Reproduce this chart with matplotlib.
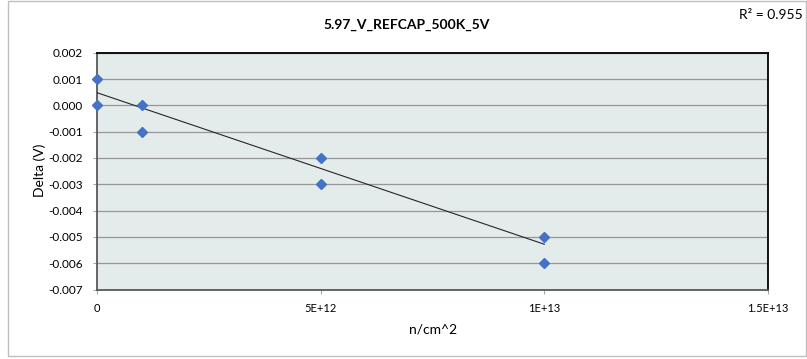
import matplotlib
matplotlib.use('Agg')
import matplotlib.pyplot as plt
from matplotlib.patches import Rectangle

plt.rcParams['font.family'] = ['Lato', 'DejaVu Sans']

# measurements: fluence vs voltage delta
fluence = [0, 0, 1e12, 1e12, 5e12, 5e12, 1e13, 1e13]
delta_v = [0.001, 0.000, 0.000, -0.001, -0.002, -0.003, -0.005, -0.006]

# linear trendline end points
trend_x = [0, 1e13]
trend_y = [0.00048, -0.00528]
r_squared = 0.955

x_ticks = [0, 5e12, 1e13, 1.5e13]
x_tick_labels = ["0", "5E+12", "1E+13", "1.5E+13"]
y_ticks = [0.002, 0.001, 0.000, -0.001, -0.002, -0.003, -0.004, -0.005, -0.006, -0.007]

W, H = 807, 359
fig = plt.figure(figsize=(W / 100, H / 100), dpi=100)

# chart area border
fig.patches.append(Rectangle((8 / W, 1 - 356 / H), 798 / W, 355 / H,
                             transform=fig.transFigure, fill=False,
                             edgecolor='#BFBFBF', linewidth=1.0))

ax = fig.add_axes([97 / W, 1 - 289.5 / H, 671 / W, 236.8 / H])
ax.set_facecolor('#E4EBEB')

ax.plot(trend_x, trend_y, color='#262626', linewidth=0.8, zorder=3)
ax.plot(fluence, delta_v, linestyle='none', marker='D', markersize=5.5,
        color='#4472C4', markeredgecolor='#4472C4', zorder=4, clip_on=False)

ax.set_xlim(0, 1.5e13)
ax.set_ylim(-0.007, 0.002)
ax.set_xticks(x_ticks)
ax.set_xticklabels(x_tick_labels, fontsize=8)
ax.set_yticks(y_ticks)
ax.set_yticklabels([f"{v:.3f}" for v in y_ticks], fontsize=8.5)
ax.tick_params(axis='both', direction='out', length=3, width=0.8, color='#A6A6A6')
ax.tick_params(axis='x', pad=7)
ax.tick_params(axis='y', pad=7)

ax.grid(axis='y', color='#969696', linewidth=0.9)
ax.set_axisbelow(True)

for side in ['top', 'right']:
    ax.spines[side].set_color('#000000')
    ax.spines[side].set_linewidth(1.3)
for side in ['left', 'bottom']:
    ax.spines[side].set_color('#595959')
    ax.spines[side].set_linewidth(1.3)

fig.text(407 / W, 1 - 25 / H, "5.97_V_REFCAP_500K_5V", ha='center', va='center',
         fontsize=10, fontweight='bold')
fig.text(803 / W, 1 - 15 / H, f"R² = {r_squared}", ha='right', va='center',
         fontsize=10)
fig.text(40 / W, 1 - 170 / H, "Delta (V)", rotation=90, ha='center', va='center',
         fontsize=10)
fig.text(433 / W, 1 - 329 / H, "n/cm^2", ha='center', va='center', fontsize=10)

fig.savefig('out.png', dpi=100)
